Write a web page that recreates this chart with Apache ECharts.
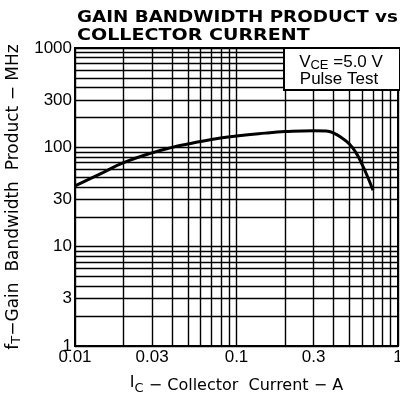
<!DOCTYPE html>
<html><head><meta charset="utf-8">
<script src="https://cdn.jsdelivr.net/npm/echarts@6/dist/echarts.min.js"></script>
<style>html,body{margin:0;padding:0;background:#fff}#c{width:400px;height:398px}</style>
</head><body><div id="c"></div>
<script>
// Collector current (A) and gain bandwidth product (MHz)
const currentA = [0.01, 0.015, 0.02, 0.03, 0.04, 0.05, 0.07, 0.1, 0.15, 0.2, 0.3, 0.36, 0.4, 0.45, 0.5, 0.55, 0.6, 0.65, 0.7];
const ftMHz    = [41,   56,    70,   88,   100,  108,  120,  130, 139,  144, 147, 146,  139, 124,  108, 88,   67,  50,   37];

const xTickLabels = [0.01, 0.03, 0.1, 0.3, 1];
const yTickLabels = [1, 3, 10, 30, 100, 300, 1000];
const xGridValues = [0.01,0.02,0.03,0.04,0.05,0.06,0.07,0.08,0.09,0.1,0.2,0.3,0.4,0.5,0.6,0.7,0.8,0.9,1];
const yGridValues = [1,2,3,4,5,6,7,8,9,10,20,30,40,50,60,70,80,90,100,200,300,400,500,600,700,800,900,1000];

const fmt = v => String(+(+v).toPrecision(3));
const FONT = 'Liberation Sans';
const NFONT = 'DejaVu Sans';

const chart = echarts.init(document.getElementById('c'), null, {renderer: 'canvas'});
chart.setOption({
  animation: false,
  backgroundColor: '#fff',
  grid: {left: 75, right: 2, top: 48, bottom: 52, containLabel: false, outerBoundsMode: 'none',
         show: true, borderColor: '#000', borderWidth: 2},
  xAxis: {
    type: 'log', logBase: 10, min: 0.01, max: 1,
    axisLine: {show: true, onZero: false, lineStyle: {color: '#000', width: 2}},
    axisTick: {show: false, customValues: xGridValues},
    splitLine: {show: true, lineStyle: {color: '#000', width: 1.4}},
    axisLabel: {customValues: xTickLabels, formatter: fmt, color: '#000', fontFamily: FONT, fontSize: 17, margin: 3, hideOverlap: false},
    name: '{i|I}{s|C}{n| − Collector  Current − A}',
    nameLocation: 'middle', nameGap: 29,
    nameTextStyle: {color: '#000', fontFamily: NFONT,
      rich: {i: {fontSize: 16, fontFamily: NFONT, color: '#000', padding: [0,0,5,0]},
             s: {fontSize: 13, fontFamily: NFONT, color: '#000', padding: [7,0,0,0]},
             n: {fontSize: 16, fontFamily: NFONT, color: '#000'}}}
  },
  yAxis: {
    type: 'log', logBase: 10, min: 1, max: 1000,
    axisLine: {show: true, onZero: false, lineStyle: {color: '#000', width: 2}},
    axisTick: {show: false, customValues: yGridValues},
    splitLine: {show: true, lineStyle: {color: '#000', width: 1.4}},
    axisLabel: {customValues: yTickLabels, formatter: fmt, color: '#000', fontFamily: FONT, fontSize: 17, margin: 3, hideOverlap: false},
    name: '{n|f}{s|T}{n|−Gain  Bandwidth  Product − MHz}',
    nameLocation: 'middle', nameGap: 47, nameRotate: 90,
    nameTextStyle: {color: '#000', fontFamily: NFONT,
      rich: {n: {fontSize: 17, fontFamily: NFONT, color: '#000'},
             s: {fontSize: 13, fontFamily: NFONT, color: '#000', padding: [7,0,0,0]}}}
  },
  graphic: [
    {type: 'text', x: 77, y: 11, scaleX: 1.22, z: 100, style: {text: 'GAIN BANDWIDTH PRODUCT vs', font: 'bold 15px "DejaVu Sans"', fill: '#000', align: 'left', verticalAlign: 'top'}},
    {type: 'text', x: 77, y: 29, scaleX: 1.27, z: 100, style: {text: 'COLLECTOR CURRENT', font: 'bold 15px "DejaVu Sans"', fill: '#000', align: 'left', verticalAlign: 'top'}},
    {type: 'group', x: 284, y: 48, z: 100, children: [
      {type: 'rect', z: 100, shape: {x: 0, y: 0, width: 116, height: 42}, style: {fill: '#fff', stroke: '#000', lineWidth: 2}},
      {type: 'text', z: 101, x: 57, y: 14, style: {text: '{n|V}{s|CE}{n| =5.0 V}', align: 'center', verticalAlign: 'middle',
        rich: {n: {fontSize: 17, fontFamily: FONT, fill: '#000'}, s: {fontSize: 13, fontFamily: FONT, fill: '#000', padding: [7,0,0,0]}}}},
      {type: 'text', z: 101, x: 55, y: 31, style: {text: 'Pulse Test', align: 'center', verticalAlign: 'middle', font: '17px "Liberation Sans"', fill: '#000'}}
    ]}
  ],
  series: [{
    type: 'line', smooth: true, symbol: 'none',
    data: currentA.map((x, i) => [x, ftMHz[i]]),
    lineStyle: {color: '#000', width: 3}
  }]
});
</script></body></html>
